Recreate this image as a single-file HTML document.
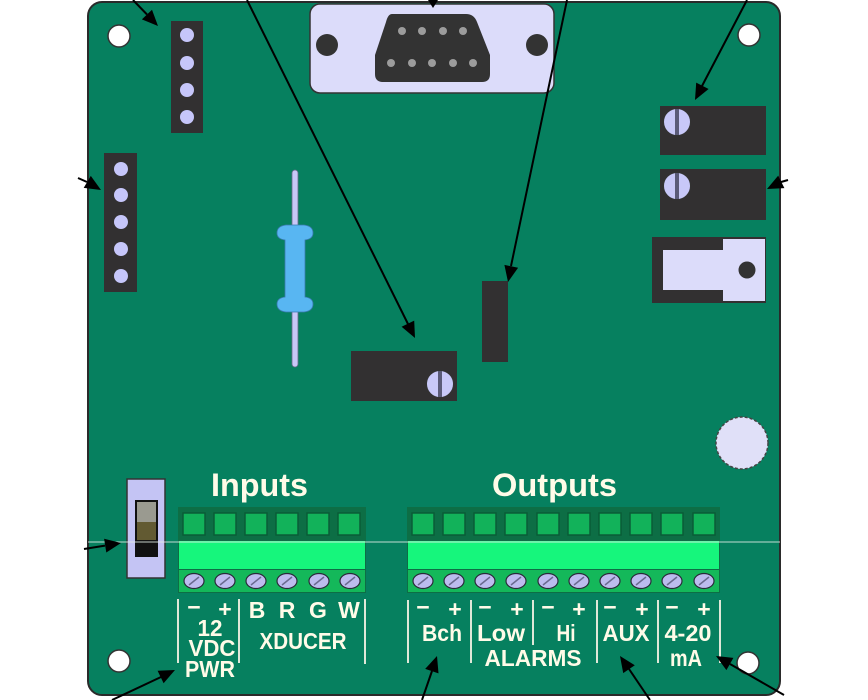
<!DOCTYPE html>
<html><head><meta charset="utf-8"><style>
html,body{margin:0;padding:0;background:#fff;}
svg{display:block;}
text{font-family:"Liberation Sans",Arial,sans-serif;font-weight:bold;fill:#fffbe8;}
</style></head><body>
<svg width="868" height="700" viewBox="0 0 868 700" xmlns="http://www.w3.org/2000/svg">
<rect x="0" y="0" width="868" height="700" fill="#ffffff"/>
<!-- board -->
<rect x="88" y="2" width="692" height="693" rx="14" fill="#06805f" stroke="#2a2a2a" stroke-width="2"/>
<!-- mounting holes -->
<g fill="#ffffff" stroke="#333" stroke-width="1.5">
<circle cx="119" cy="36" r="11"/>
<circle cx="749" cy="35" r="11"/>
<circle cx="119" cy="661" r="11"/>
<circle cx="748" cy="663" r="11"/>
</g>
<circle cx="742" cy="443" r="26" fill="#e0e0f8" stroke="#444" stroke-width="1.5" stroke-dasharray="3 2"/>
<!-- top-left 4-pin header -->
<rect x="171" y="21" width="32" height="112" fill="#323031"/>
<g fill="#c6c6fa"><circle cx="187" cy="35" r="7"/><circle cx="187" cy="63" r="7"/><circle cx="187" cy="90" r="7"/><circle cx="187" cy="117" r="7"/></g>
<!-- left 5-pin header -->
<rect x="104" y="153" width="33" height="139" fill="#323031"/>
<g fill="#c6c6fa"><circle cx="121" cy="169" r="7"/><circle cx="121" cy="195" r="7"/><circle cx="121" cy="222" r="7"/><circle cx="121" cy="249" r="7"/><circle cx="121" cy="276" r="7"/></g>
<!-- DB9 -->
<rect x="310" y="4" width="244" height="89" rx="10" fill="#dcdcfa" stroke="#333" stroke-width="1.5"/>
<circle cx="327" cy="45" r="11" fill="#333"/>
<circle cx="537" cy="45" r="11" fill="#333"/>
<path d="M392,14 L466,14 Q474,14 477,22 L490,55 L490,74 Q490,82 482,82 L383,82 Q375,82 375,74 L375,55 L386,22 Q388,14 392,14 Z" fill="#333"/>
<g fill="#9c9c9c"><circle cx="402" cy="31" r="4"/><circle cx="422" cy="31" r="4"/><circle cx="443" cy="31" r="4"/><circle cx="463" cy="31" r="4"/>
<circle cx="391" cy="63" r="4"/><circle cx="412" cy="63" r="4"/><circle cx="432" cy="63" r="4"/><circle cx="453" cy="63" r="4"/><circle cx="473" cy="63" r="4"/></g>
<!-- right pots -->
<rect x="660" y="106" width="106" height="49" fill="#323031"/>
<rect x="660" y="169" width="106" height="51" fill="#323031"/>
<g>
<circle cx="677" cy="122" r="13.5" fill="#c8c8f8" stroke="#333" stroke-width="1"/>
<rect x="675" y="109" width="4" height="26" fill="#5a5a78"/>
<circle cx="677" cy="186" r="13.5" fill="#c8c8f8" stroke="#333" stroke-width="1"/>
<rect x="675" y="173" width="4" height="26" fill="#5a5a78"/>
</g>
<!-- jack -->
<rect x="652" y="237" width="114" height="66" fill="#323031"/>
<path d="M663,250 L723,250 L723,239 L765,239 L765,301 L723,301 L723,290 L663,290 Z" fill="#dcdcfa"/>
<circle cx="747" cy="270" r="8.5" fill="#333"/>
<!-- resistor -->
<rect x="292" y="170" width="6" height="197" rx="3" fill="#c8c8f8" stroke="#6a6a8a" stroke-width="0.8"/>
<path d="M286,225 L304,225 Q313,226 313,233 Q313,239 305,240 L305,297 Q313,298 313,304 Q313,311 304,312 L286,312 Q277,311 277,304 Q277,298 285,297 L285,240 Q277,239 277,233 Q277,226 286,225 Z" fill="#58b6f2" stroke="#3a7ab0" stroke-width="0.8"/>
<!-- middle pot -->
<rect x="351" y="351" width="106" height="50" fill="#323031"/>
<circle cx="440" cy="384" r="13.5" fill="#c8c8f8" stroke="#333" stroke-width="1"/>
<rect x="438" y="371" width="4" height="26" fill="#5a5a78"/>
<!-- small dark rect -->
<rect x="482" y="281" width="26" height="81" fill="#323031"/>
<!-- switch -->
<rect x="127" y="479" width="38" height="99" fill="#c4c4f4" stroke="#333" stroke-width="1.5"/>
<rect x="135" y="500" width="23" height="57" fill="#111"/>
<rect x="137" y="502" width="19" height="20" fill="#9a9a90"/>
<rect x="137" y="522" width="19" height="18" fill="#625a32"/>
<!-- Titles -->
<text x="211" y="496" font-size="32" textLength="97" lengthAdjust="spacingAndGlyphs" fill="#fffdf2">Inputs</text>
<text x="492" y="496" font-size="32" textLength="125" lengthAdjust="spacingAndGlyphs" fill="#fffdf2">Outputs</text>
<!-- Input terminal block -->
<rect x="178" y="507" width="188" height="86" fill="#0d6e45"/>
<g fill="#12b25a" stroke="#0a5c37" stroke-width="1.5">
<rect x="183" y="513" width="22" height="22"/><rect x="214" y="513" width="22" height="22"/><rect x="245" y="513" width="22" height="22"/>
<rect x="276" y="513" width="22" height="22"/><rect x="307" y="513" width="22" height="22"/><rect x="338" y="513" width="22" height="22"/>
</g>
<rect x="179" y="541" width="186" height="28" fill="#16f67c"/>
<rect x="179" y="570" width="186" height="22" fill="#14b85a"/>
<!-- Output terminal block -->
<rect x="407" y="507" width="313" height="86" fill="#0d6e45"/>
<g fill="#12b25a" stroke="#0a5c37" stroke-width="1.5">
<rect x="412" y="513" width="22" height="22"/><rect x="443" y="513" width="22" height="22"/><rect x="474" y="513" width="22" height="22"/>
<rect x="505" y="513" width="22" height="22"/><rect x="537" y="513" width="22" height="22"/><rect x="568" y="513" width="22" height="22"/>
<rect x="599" y="513" width="22" height="22"/><rect x="630" y="513" width="22" height="22"/><rect x="661" y="513" width="22" height="22"/>
<rect x="693" y="513" width="22" height="22"/>
</g>
<rect x="408" y="541" width="311" height="28" fill="#16f67c"/>
<rect x="408" y="570" width="311" height="22" fill="#14b85a"/>
<!-- screws -->
<g fill="#bcbcee" stroke="#2a2a3a" stroke-width="1.2">
<ellipse cx="194" cy="581" rx="10" ry="7.5"/><ellipse cx="225" cy="581" rx="10" ry="7.5"/><ellipse cx="256" cy="581" rx="10" ry="7.5"/>
<ellipse cx="287" cy="581" rx="10" ry="7.5"/><ellipse cx="319" cy="581" rx="10" ry="7.5"/><ellipse cx="350" cy="581" rx="10" ry="7.5"/>
<ellipse cx="423" cy="581" rx="10" ry="7.5"/><ellipse cx="454" cy="581" rx="10" ry="7.5"/><ellipse cx="485" cy="581" rx="10" ry="7.5"/>
<ellipse cx="516" cy="581" rx="10" ry="7.5"/><ellipse cx="548" cy="581" rx="10" ry="7.5"/><ellipse cx="579" cy="581" rx="10" ry="7.5"/>
<ellipse cx="610" cy="581" rx="10" ry="7.5"/><ellipse cx="641" cy="581" rx="10" ry="7.5"/><ellipse cx="672" cy="581" rx="10" ry="7.5"/>
<ellipse cx="704" cy="581" rx="10" ry="7.5"/>
</g>
<g stroke="#6a6a90" stroke-width="1.5">
<line x1="189" y1="585" x2="199" y2="577"/><line x1="220" y1="585" x2="230" y2="577"/><line x1="251" y1="585" x2="261" y2="577"/>
<line x1="282" y1="585" x2="292" y2="577"/><line x1="314" y1="585" x2="324" y2="577"/><line x1="345" y1="585" x2="355" y2="577"/>
<line x1="418" y1="585" x2="428" y2="577"/><line x1="449" y1="585" x2="459" y2="577"/><line x1="480" y1="585" x2="490" y2="577"/>
<line x1="511" y1="585" x2="521" y2="577"/><line x1="543" y1="585" x2="553" y2="577"/><line x1="574" y1="585" x2="584" y2="577"/>
<line x1="605" y1="585" x2="615" y2="577"/><line x1="636" y1="585" x2="646" y2="577"/><line x1="667" y1="585" x2="677" y2="577"/>
<line x1="699" y1="585" x2="709" y2="577"/>
</g>
<!-- thin light horizontal line -->
<line x1="88" y1="542" x2="780" y2="542" stroke="#e4eee8" stroke-width="1" opacity="0.85"/>
<!-- separators -->
<g stroke="#dfe8d8" stroke-width="2">
<line x1="178" y1="599" x2="178" y2="663"/><line x1="239" y1="599" x2="239" y2="663"/><line x1="365" y1="599" x2="365" y2="664"/>
<line x1="408" y1="600" x2="408" y2="663"/><line x1="471" y1="600" x2="471" y2="663"/><line x1="533" y1="600" x2="533" y2="645"/>
<line x1="597" y1="600" x2="597" y2="663"/><line x1="658" y1="600" x2="658" y2="663"/><line x1="720" y1="600" x2="720" y2="663"/>
</g>
<!-- input labels -->
<g font-size="23" text-anchor="middle">
<text x="194" y="615" fill="#e8eee0">−</text><text x="225" y="617">+</text>
<text x="257" y="618">B</text><text x="287" y="618">R</text><text x="318" y="618">G</text><text x="349" y="618">W</text>
<text x="210" y="636" textLength="25" lengthAdjust="spacingAndGlyphs">12</text>
<text x="212" y="656" textLength="47" lengthAdjust="spacingAndGlyphs">VDC</text>
<text x="210" y="677" textLength="50" lengthAdjust="spacingAndGlyphs">PWR</text>
<text x="303" y="649" textLength="87" lengthAdjust="spacingAndGlyphs">XDUCER</text>
</g>
<!-- output labels -->
<g font-size="23" text-anchor="middle">
<text x="423" y="615" fill="#e8eee0">−</text><text x="455" y="617">+</text>
<text x="485" y="615" fill="#e8eee0">−</text><text x="517" y="617">+</text>
<text x="548" y="615" fill="#e8eee0">−</text><text x="579" y="617">+</text>
<text x="610" y="615" fill="#e8eee0">−</text><text x="642" y="617">+</text>
<text x="672" y="615" fill="#e8eee0">−</text><text x="704" y="617">+</text>
<text x="442" y="641" textLength="40" lengthAdjust="spacingAndGlyphs">Bch</text>
<text x="501" y="641" textLength="48" lengthAdjust="spacingAndGlyphs">Low</text>
<text x="566" y="641" textLength="19" lengthAdjust="spacingAndGlyphs">Hi</text>
<text x="626" y="641" textLength="47" lengthAdjust="spacingAndGlyphs">AUX</text>
<text x="688" y="641" textLength="47" lengthAdjust="spacingAndGlyphs">4-20</text>
<text x="533" y="666" textLength="97" lengthAdjust="spacingAndGlyphs">ALARMS</text>
<text x="686" y="666" textLength="32" lengthAdjust="spacingAndGlyphs">mA</text>
</g>
<!-- arrows -->
<g stroke="#000" stroke-width="2" fill="none">
<line x1="133" y1="0" x2="147" y2="14.5"/>
<line x1="247" y1="0" x2="408" y2="324"/>
<line x1="567" y1="0" x2="511" y2="266"/>
<line x1="747" y1="0" x2="702" y2="86"/>
<line x1="788" y1="180" x2="781" y2="182"/>
<line x1="78" y1="178" x2="87" y2="182"/>
<line x1="84" y1="549" x2="105" y2="545.6"/>
<line x1="112" y1="700" x2="161" y2="677"/>
<line x1="422" y1="700" x2="432" y2="671"/>
<line x1="650" y1="700" x2="629" y2="669"/>
<line x1="784" y1="695" x2="730" y2="664"/>
</g>
<g fill="#000">
<polygon points="158,26 141.9,19.4 152,9.7"/>
<polygon points="415,338 401.6,326.8 414.2,320.6"/>
<polygon points="428,0 438,0 433,8"/>
<polygon points="508,282 504.4,264.9 518.1,267.8"/>
<polygon points="695,100 696.2,82.6 708.6,89"/>
<polygon points="767,189 778.2,175.6 784.4,188.1"/>
<polygon points="101,190 83.7,187.9 90.8,175.9"/>
<polygon points="121,543 106.3,552.5 104.1,538.7"/>
<polygon points="175,670 163.6,683.3 157.6,670.7"/>
<polygon points="437,656 438.5,673.4 425.2,668.9"/>
<polygon points="620,656 634.8,665.3 623.2,673.1"/>
<polygon points="716,656 733.4,657.9 726.4,670.1"/>
</g>
</svg>
</body></html>
